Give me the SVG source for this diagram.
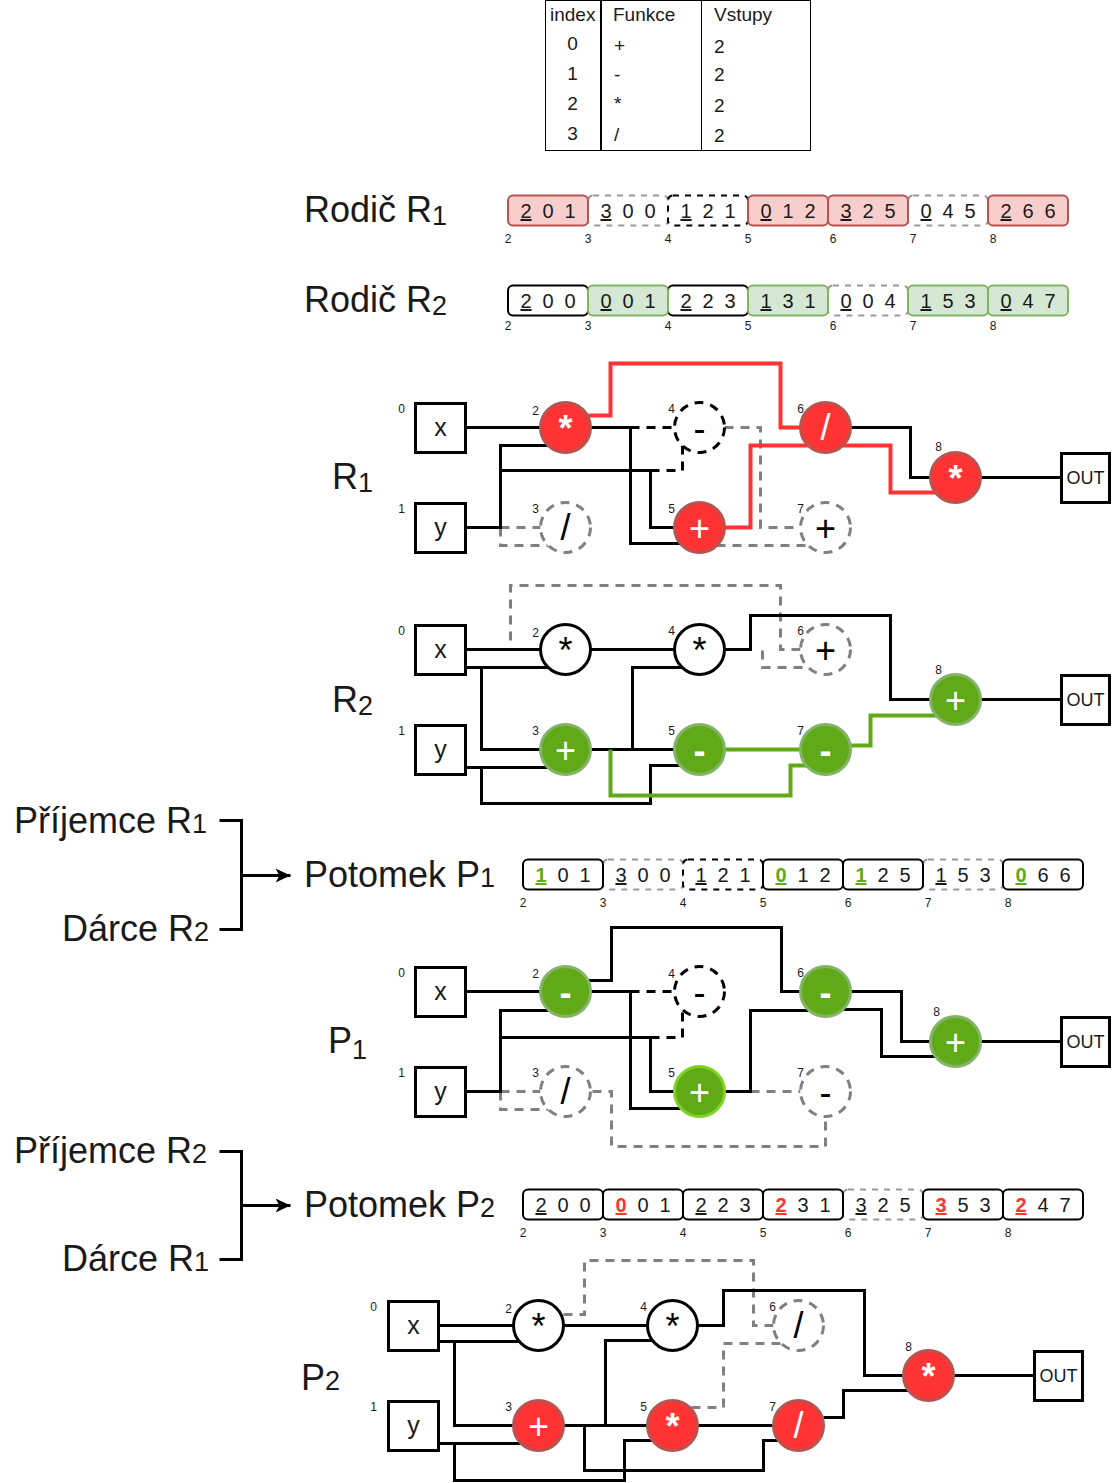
<svg xmlns="http://www.w3.org/2000/svg" width="1112" height="1483" viewBox="0 0 1112 1483">
<style>
text{font-family:"Liberation Sans",Arial,sans-serif;fill:#1a1a1a}
.t19{font-size:19px}
.lab{font-size:36px}
.sub{font-size:27px}
.n{font-size:12px;text-anchor:middle}
.d{font-size:20px;text-anchor:middle}
.u{text-decoration:underline}
.gb{font-weight:bold;fill:#60a917;text-decoration:underline}
.rb{font-weight:bold;fill:#ff3333;text-decoration:underline}
.c{fill:none;stroke-linejoin:miter}
.k{stroke:#000;stroke-width:3}
.kd{stroke:#000;stroke-width:3;stroke-dasharray:9 7}
.gd{stroke:#808080;stroke-width:3;stroke-dasharray:9 7}
.rl{stroke:#ff3333;stroke-width:4}
.gl{stroke:#60a917;stroke-width:4}
.box{fill:#fff;stroke:#000;stroke-width:3}
.bt{font-size:25px;text-anchor:middle}
.ot{font-size:18px;text-anchor:middle}
.sym,.syw,.syl{font-size:36px;text-anchor:middle;transform:translateY(-1px)}
.sym{fill:#000}
.syw{fill:#fff;font-weight:bold}
.syl{fill:#fff}
.nw{fill:#fff;stroke:#000;stroke-width:3}
.nk{fill:#fff;stroke:#000;stroke-width:3;stroke-dasharray:9 7}
.ng{fill:#fff;stroke:#808080;stroke-width:3;stroke-dasharray:9 7}
.nr{fill:#ff3333;stroke:#b85450;stroke-width:3}
.ngn{fill:#60a917;stroke:#82b366;stroke-width:3}
.ngb{fill:#60a917;stroke:#7ed321;stroke-width:3}
.cr{fill:#f8cecc;stroke:#b85450;stroke-width:2}
.cg{fill:#d5e8d4;stroke:#82b366;stroke-width:2}
.cb{fill:#fff;stroke:#000;stroke-width:2}
.cgd{fill:#fff;stroke:#999;stroke-width:2;stroke-dasharray:6 6}
.ckd{fill:#fff;stroke:#000;stroke-width:2;stroke-dasharray:6 6}
</style>
<defs>
<marker id="arrow" markerUnits="userSpaceOnUse" markerWidth="16" markerHeight="14" refX="15" refY="7" orient="auto"><path d="M0,0 L15,7 L0,14 L4,7 Z" fill="#000"/></marker>
</defs>

<g id="table">
<rect x="545.500" y="0.500" width="265" height="150" fill="#fff" stroke="#000" stroke-width="1"/>
<line x1="601" y1="0" x2="601" y2="150" stroke="#000" stroke-width="2"/>
<line x1="701.500" y1="0" x2="701.500" y2="150" stroke="#000" stroke-width="1"/>
<text class="t19" x="550" y="21">index</text><text class="t19" x="613" y="21">Funkce</text><text class="t19" x="714" y="21">Vstupy</text>
<text class="t19" x="572.500" y="50" text-anchor="middle">0</text><text class="t19" x="572.500" y="80" text-anchor="middle">1</text><text class="t19" x="572.500" y="110" text-anchor="middle">2</text><text class="t19" x="572.500" y="140" text-anchor="middle">3</text>
<text class="t19" x="614" y="52">+</text><text class="t19" x="614" y="81">-</text><text class="t19" x="614" y="110">*</text><text class="t19" x="614" y="141">/</text>
<text class="t19" x="714" y="53">2</text><text class="t19" x="714" y="81">2</text><text class="t19" x="714" y="112">2</text><text class="t19" x="714" y="142">2</text>
</g>

<g id="labels">
<text class="lab" x="304" y="222">Rodič R<tspan class="sub" dy="3">1</tspan></text>
<text class="lab" x="304" y="312">Rodič R<tspan class="sub" dy="3">2</tspan></text>
<text class="lab" x="332" y="489">R<tspan class="sub" dy="3">1</tspan></text>
<text class="lab" x="332" y="712">R<tspan class="sub" dy="3">2</tspan></text>
<text class="lab" x="14" y="833">Příjemce R<tspan class="sub">1</tspan></text>
<text class="lab" x="62" y="941">Dárce R<tspan class="sub">2</tspan></text>
<text class="lab" x="304" y="887">Potomek P<tspan class="sub">1</tspan></text>
<text class="lab" x="328" y="1053">P<tspan class="sub" dy="6">1</tspan></text>
<text class="lab" x="14" y="1163">Příjemce R<tspan class="sub">2</tspan></text>
<text class="lab" x="62" y="1271">Dárce R<tspan class="sub">1</tspan></text>
<text class="lab" x="304" y="1217">Potomek P<tspan class="sub">2</tspan></text>
<text class="lab" x="301" y="1390">P<tspan class="sub" dy="0">2</tspan></text>
</g>

<g id="brackets" class="c" transform="translate(.5 .5)">
<path class="k" d="M219,820 H241 V929 H219"/>
<path class="k" d="M241,875 H290" marker-end="url(#arrow)"/>
<path class="k" d="M219,1151 H241 V1259 H219"/>
<path class="k" d="M241,1205 H290" marker-end="url(#arrow)"/>
</g>

<g id="rowR1">
<rect class="cgd" x="588" y="195.500" width="80" height="30" rx="5"/><rect class="cgd" x="908" y="195.500" width="80" height="30" rx="5"/><rect class="ckd" x="668" y="195.500" width="80" height="30" rx="5"/>
<rect class="cr" x="508" y="195.500" width="80" height="30" rx="5"/><rect class="cr" x="748" y="195.500" width="80" height="30" rx="5"/><rect class="cr" x="828" y="195.500" width="80" height="30" rx="5"/><rect class="cr" x="988" y="195.500" width="80" height="30" rx="5"/>
<text class="d" y="218"><tspan class="u" x="526">2</tspan><tspan x="548">0</tspan><tspan x="570">1</tspan></text>
<text class="d" y="218"><tspan class="u" x="606">3</tspan><tspan x="628">0</tspan><tspan x="650">0</tspan></text>
<text class="d" y="218"><tspan class="u" x="686">1</tspan><tspan x="708">2</tspan><tspan x="730">1</tspan></text>
<text class="d" y="218"><tspan class="u" x="766">0</tspan><tspan x="788">1</tspan><tspan x="810">2</tspan></text>
<text class="d" y="218"><tspan class="u" x="846">3</tspan><tspan x="868">2</tspan><tspan x="890">5</tspan></text>
<text class="d" y="218"><tspan class="u" x="926">0</tspan><tspan x="948">4</tspan><tspan x="970">5</tspan></text>
<text class="d" y="218"><tspan class="u" x="1006">2</tspan><tspan x="1028">6</tspan><tspan x="1050">6</tspan></text>
<text class="n" x="508" y="243">2</text><text class="n" x="588" y="243">3</text><text class="n" x="668" y="243">4</text><text class="n" x="748" y="243">5</text><text class="n" x="833" y="243">6</text><text class="n" x="913" y="243">7</text><text class="n" x="993" y="243">8</text>
</g>

<g id="rowR2">
<rect class="cgd" x="828" y="285.500" width="80" height="30" rx="5"/>
<rect class="cb" x="508" y="285.500" width="80" height="30" rx="5"/><rect class="cb" x="668" y="285.500" width="80" height="30" rx="5"/>
<rect class="cg" x="588" y="285.500" width="80" height="30" rx="5"/><rect class="cg" x="748" y="285.500" width="80" height="30" rx="5"/><rect class="cg" x="908" y="285.500" width="80" height="30" rx="5"/><rect class="cg" x="988" y="285.500" width="80" height="30" rx="5"/>
<text class="d" y="308"><tspan class="u" x="526">2</tspan><tspan x="548">0</tspan><tspan x="570">0</tspan></text>
<text class="d" y="308"><tspan class="u" x="606">0</tspan><tspan x="628">0</tspan><tspan x="650">1</tspan></text>
<text class="d" y="308"><tspan class="u" x="686">2</tspan><tspan x="708">2</tspan><tspan x="730">3</tspan></text>
<text class="d" y="308"><tspan class="u" x="766">1</tspan><tspan x="788">3</tspan><tspan x="810">1</tspan></text>
<text class="d" y="308"><tspan class="u" x="846">0</tspan><tspan x="868">0</tspan><tspan x="890">4</tspan></text>
<text class="d" y="308"><tspan class="u" x="926">1</tspan><tspan x="948">5</tspan><tspan x="970">3</tspan></text>
<text class="d" y="308"><tspan class="u" x="1006">0</tspan><tspan x="1028">4</tspan><tspan x="1050">7</tspan></text>
<text class="n" x="508" y="330">2</text><text class="n" x="588" y="330">3</text><text class="n" x="668" y="330">4</text><text class="n" x="748" y="330">5</text><text class="n" x="833" y="330">6</text><text class="n" x="913" y="330">7</text><text class="n" x="993" y="330">8</text>
</g>

<g id="rowP1">
<rect class="cgd" x="603" y="859.500" width="80" height="30" rx="5"/><rect class="cgd" x="923" y="859.500" width="80" height="30" rx="5"/><rect class="ckd" x="683" y="859.500" width="80" height="30" rx="5"/>
<rect class="cb" x="523" y="859.500" width="80" height="30" rx="5"/><rect class="cb" x="763" y="859.500" width="80" height="30" rx="5"/><rect class="cb" x="843" y="859.500" width="80" height="30" rx="5"/><rect class="cb" x="1003" y="859.500" width="80" height="30" rx="5"/>
<text class="d" y="882"><tspan class="gb" x="541">1</tspan><tspan x="563">0</tspan><tspan x="585">1</tspan></text>
<text class="d" y="882"><tspan class="u" x="621">3</tspan><tspan x="643">0</tspan><tspan x="665">0</tspan></text>
<text class="d" y="882"><tspan class="u" x="701">1</tspan><tspan x="723">2</tspan><tspan x="745">1</tspan></text>
<text class="d" y="882"><tspan class="gb" x="781">0</tspan><tspan x="803">1</tspan><tspan x="825">2</tspan></text>
<text class="d" y="882"><tspan class="gb" x="861">1</tspan><tspan x="883">2</tspan><tspan x="905">5</tspan></text>
<text class="d" y="882"><tspan class="u" x="941">1</tspan><tspan x="963">5</tspan><tspan x="985">3</tspan></text>
<text class="d" y="882"><tspan class="gb" x="1021">0</tspan><tspan x="1043">6</tspan><tspan x="1065">6</tspan></text>
<text class="n" x="523" y="907">2</text><text class="n" x="603" y="907">3</text><text class="n" x="683" y="907">4</text><text class="n" x="763" y="907">5</text><text class="n" x="848" y="907">6</text><text class="n" x="928" y="907">7</text><text class="n" x="1008" y="907">8</text>
</g>

<g id="rowP2">
<rect class="cgd" x="843" y="1189.500" width="80" height="30" rx="5"/>
<rect class="cb" x="523" y="1189.500" width="80" height="30" rx="5"/><rect class="cb" x="603" y="1189.500" width="80" height="30" rx="5"/><rect class="cb" x="683" y="1189.500" width="80" height="30" rx="5"/><rect class="cb" x="763" y="1189.500" width="80" height="30" rx="5"/><rect class="cb" x="923" y="1189.500" width="80" height="30" rx="5"/><rect class="cb" x="1003" y="1189.500" width="80" height="30" rx="5"/>
<text class="d" y="1212"><tspan class="u" x="541">2</tspan><tspan x="563">0</tspan><tspan x="585">0</tspan></text>
<text class="d" y="1212"><tspan class="rb" x="621">0</tspan><tspan x="643">0</tspan><tspan x="665">1</tspan></text>
<text class="d" y="1212"><tspan class="u" x="701">2</tspan><tspan x="723">2</tspan><tspan x="745">3</tspan></text>
<text class="d" y="1212"><tspan class="rb" x="781">2</tspan><tspan x="803">3</tspan><tspan x="825">1</tspan></text>
<text class="d" y="1212"><tspan class="u" x="861">3</tspan><tspan x="883">2</tspan><tspan x="905">5</tspan></text>
<text class="d" y="1212"><tspan class="rb" x="941">3</tspan><tspan x="963">5</tspan><tspan x="985">3</tspan></text>
<text class="d" y="1212"><tspan class="rb" x="1021">2</tspan><tspan x="1043">4</tspan><tspan x="1065">7</tspan></text>
<text class="n" x="523" y="1237">2</text><text class="n" x="603" y="1237">3</text><text class="n" x="683" y="1237">4</text><text class="n" x="763" y="1237">5</text><text class="n" x="848" y="1237">6</text><text class="n" x="928" y="1237">7</text><text class="n" x="1008" y="1237">8</text>
</g>

<g id="diagrams" transform="translate(.5 .5)">
<g id="connectors-R1" class="c">
<path class="gd" d="M500,527 H540 M500,527 V545 H548"/>
<path class="gd" d="M724,427 H760 V527 H800"/>
<path class="gd" d="M716,545 H808"/>
<path class="kd" d="M630,427 H674"/>
<path class="kd" d="M650,470 H682 V443"/>
<path class="k" d="M466,427 H540"/>
<path class="k" d="M590,427 H630 V543 H680"/>
<path class="k" d="M466,527 H500 V445 H548"/>
<path class="k" d="M500,470 H650 V527 H674"/>
<path class="rl" d="M588,415 H610 V363 H780 V427 H800"/>
<path class="rl" d="M724,527 H750 V445 H808 M842,445 H890 V492 H938"/>
<path class="k" d="M850,427 H910 V477 H930"/>
<path class="k" d="M980,477 H1060"/>
</g>
<g id="R1-x"><rect class="box" x="415" y="403" width="50" height="49"/><text class="bt" x="440" y="435">x</text><text class="n" x="401" y="412">0</text></g>
<g id="R1-y"><rect class="box" x="415" y="503" width="50" height="49"/><text class="bt" x="440" y="535">y</text><text class="n" x="401" y="512">1</text></g>
<g id="R1-n2"><circle class="nr" cx="565" cy="427" r="25"/><text class="syw" x="565" y="441">*</text><text class="n" x="535" y="414">2</text></g>
<g id="R1-n3"><circle class="ng" cx="565" cy="527" r="25"/><text class="sym" x="565" y="540">/</text><text class="n" x="535" y="512">3</text></g>
<g id="R1-n4"><circle class="nk" cx="699" cy="427" r="25"/><text class="sym" x="699" y="441">-</text><text class="n" x="671" y="412">4</text></g>
<g id="R1-n5"><circle class="nr" cx="699" cy="527" r="25"/><text class="syl" x="699" y="541">+</text><text class="n" x="671" y="512">5</text></g>
<g id="R1-n6"><circle class="nr" cx="825" cy="427" r="25"/><text class="syl" x="825" y="440">/</text><text class="n" x="800" y="412">6</text></g>
<g id="R1-n7"><circle class="ng" cx="825" cy="527" r="25"/><text class="sym" x="825" y="541">+</text><text class="n" x="800" y="512">7</text></g>
<g id="R1-n8"><circle class="nr" cx="955" cy="477" r="25"/><text class="syw" x="955" y="491">*</text><text class="n" x="938" y="450">8</text></g>
<g id="R1-out"><rect class="box" x="1061" y="453" width="48" height="49"/><text class="ot" x="1085" y="483">OUT</text></g>

<g id="connectors-R2" class="c">
<path class="gd" d="M510,640 V585 H780 V649 H800"/>
<path class="gd" d="M762,650 V667 H808"/>
<path class="k" d="M466,649 H540"/>
<path class="k" d="M466,667 H548 M481,667 V749 H540"/>
<path class="k" d="M466,767 H548 M481,767 V803 H650 V765 H680"/>
<path class="k" d="M590,649 H674"/>
<path class="k" d="M590,749 H674 M632,749 V667 H682"/>
<path class="k" d="M724,649 H750 V615 H890 V699 H930"/>
<path class="gl" d="M724,749 H800"/>
<path class="gl" d="M610,749 V795 H790 V765 H808"/>
<path class="gl" d="M850,745 H870 V715 H938"/>
<path class="k" d="M980,699 H1060"/>
</g>
<g id="R2-x"><rect class="box" x="415" y="625" width="50" height="49"/><text class="bt" x="440" y="657">x</text><text class="n" x="401" y="634">0</text></g>
<g id="R2-y"><rect class="box" x="415" y="725" width="50" height="49"/><text class="bt" x="440" y="757">y</text><text class="n" x="401" y="734">1</text></g>
<g id="R2-n2"><circle class="nw" cx="565" cy="649" r="25"/><text class="sym" x="565" y="663">*</text><text class="n" x="535" y="636">2</text></g>
<g id="R2-n3"><circle class="ngn" cx="565" cy="749" r="25"/><text class="syl" x="565" y="763">+</text><text class="n" x="535" y="734">3</text></g>
<g id="R2-n4"><circle class="nw" cx="699" cy="649" r="25"/><text class="sym" x="699" y="663">*</text><text class="n" x="671" y="634">4</text></g>
<g id="R2-n5"><circle class="ngn" cx="699" cy="749" r="25"/><text class="syw" x="699" y="763">-</text><text class="n" x="671" y="734">5</text></g>
<g id="R2-n6"><circle class="ng" cx="825" cy="649" r="25"/><text class="sym" x="825" y="663">+</text><text class="n" x="800" y="634">6</text></g>
<g id="R2-n7"><circle class="ngn" cx="825" cy="749" r="25"/><text class="syw" x="825" y="763">-</text><text class="n" x="800" y="734">7</text></g>
<g id="R2-n8"><circle class="ngn" cx="955" cy="699" r="25"/><text class="syl" x="955" y="713">+</text><text class="n" x="938" y="673">8</text></g>
<g id="R2-out"><rect class="box" x="1061" y="675" width="48" height="49"/><text class="ot" x="1085" y="705">OUT</text></g>

<g id="connectors-P1" class="c">
<path class="gd" d="M500,1091 H540 M500,1091 V1109 H548"/>
<path class="gd" d="M592,1091 H611 V1146 H825 V1116"/>
<path class="gd" d="M750,1091 H800"/>
<path class="kd" d="M630,991 H674"/>
<path class="kd" d="M650,1037 H682 V1005"/>
<path class="k" d="M466,991 H540"/>
<path class="k" d="M590,991 H630 V1108 H680"/>
<path class="k" d="M588,980 H611 V927 H781 V991 H800"/>
<path class="k" d="M466,1091 H500 V1010 H548"/>
<path class="k" d="M500,1037 H650 V1091 H674"/>
<path class="k" d="M724,1091 H750 V1010 H808"/>
<path class="k" d="M850,991 H901 V1041 H930"/>
<path class="k" d="M842,1009 H881 V1056 H938"/>
<path class="k" d="M980,1041 H1060"/>
</g>
<g id="P1-x"><rect class="box" x="415" y="967" width="50" height="49"/><text class="bt" x="440" y="999">x</text><text class="n" x="401" y="976">0</text></g>
<g id="P1-y"><rect class="box" x="415" y="1067" width="50" height="49"/><text class="bt" x="440" y="1099">y</text><text class="n" x="401" y="1076">1</text></g>
<g id="P1-n2"><circle class="ngn" cx="565" cy="991" r="25"/><text class="syw" x="565" y="1005">-</text><text class="n" x="535" y="977">2</text></g>
<g id="P1-n3"><circle class="ng" cx="565" cy="1091" r="25"/><text class="sym" x="565" y="1104">/</text><text class="n" x="535" y="1076">3</text></g>
<g id="P1-n4"><circle class="nk" cx="699" cy="991" r="25"/><text class="sym" x="699" y="1005">-</text><text class="n" x="671" y="977">4</text></g>
<g id="P1-n5"><circle class="ngb" cx="699" cy="1091" r="25"/><text class="syl" x="699" y="1105">+</text><text class="n" x="671" y="1076">5</text></g>
<g id="P1-n6"><circle class="ngn" cx="825" cy="991" r="25"/><text class="syw" x="825" y="1005">-</text><text class="n" x="800" y="976">6</text></g>
<g id="P1-n7"><circle class="ng" cx="825" cy="1091" r="25"/><text class="sym" x="825" y="1105">-</text><text class="n" x="800" y="1076">7</text></g>
<g id="P1-n8"><circle class="ngn" cx="955" cy="1041" r="25"/><text class="syl" x="955" y="1055">+</text><text class="n" x="936" y="1015">8</text></g>
<g id="P1-out"><rect class="box" x="1061" y="1017" width="48" height="49"/><text class="ot" x="1085" y="1047">OUT</text></g>

<g id="connectors-P2" class="c">
<path class="gd" d="M563,1314 H584 V1260 H753 V1325 H773"/>
<path class="gd" d="M691,1407 H723 V1343 H781"/>
<path class="k" d="M439,1325 H513"/>
<path class="k" d="M439,1341 H521 M454,1341 V1425 H513"/>
<path class="k" d="M439,1443 H521 M454,1443 V1480 H624 V1440 H653"/>
<path class="k" d="M563,1325 H647"/>
<path class="k" d="M563,1425 H647 M605,1425 V1340 H655"/>
<path class="k" d="M584,1425 V1470 H763 V1440 H780"/>
<path class="k" d="M697,1325 H723 V1290 H864 V1375 H903"/>
<path class="k" d="M697,1425 H773"/>
<path class="k" d="M823,1417 H843 V1390 H911"/>
<path class="k" d="M953,1375 H1034"/>
</g>
<g id="P2-x"><rect class="box" x="388" y="1301" width="50" height="49"/><text class="bt" x="413" y="1333">x</text><text class="n" x="373" y="1310">0</text></g>
<g id="P2-y"><rect class="box" x="388" y="1401" width="50" height="49"/><text class="bt" x="413" y="1433">y</text><text class="n" x="373" y="1410">1</text></g>
<g id="P2-n2"><circle class="nw" cx="538" cy="1325" r="25"/><text class="sym" x="538" y="1339">*</text><text class="n" x="508" y="1312">2</text></g>
<g id="P2-n3"><circle class="nr" cx="538" cy="1425" r="25"/><text class="syl" x="538" y="1439">+</text><text class="n" x="508" y="1410">3</text></g>
<g id="P2-n4"><circle class="nw" cx="672" cy="1325" r="25"/><text class="sym" x="672" y="1339">*</text><text class="n" x="643" y="1310">4</text></g>
<g id="P2-n5"><circle class="nr" cx="672" cy="1425" r="25"/><text class="syw" x="672" y="1439">*</text><text class="n" x="643" y="1410">5</text></g>
<g id="P2-n6"><circle class="ng" cx="798" cy="1325" r="25"/><text class="sym" x="798" y="1338">/</text><text class="n" x="772" y="1310">6</text></g>
<g id="P2-n7"><circle class="nr" cx="798" cy="1425" r="25"/><text class="syl" x="798" y="1438">/</text><text class="n" x="772" y="1410">7</text></g>
<g id="P2-n8"><circle class="nr" cx="928" cy="1375" r="25"/><text class="syw" x="928" y="1389">*</text><text class="n" x="908" y="1350">8</text></g>
<g id="P2-out"><rect class="box" x="1034" y="1351" width="48" height="49"/><text class="ot" x="1058" y="1381">OUT</text></g>
</g>
</svg>
